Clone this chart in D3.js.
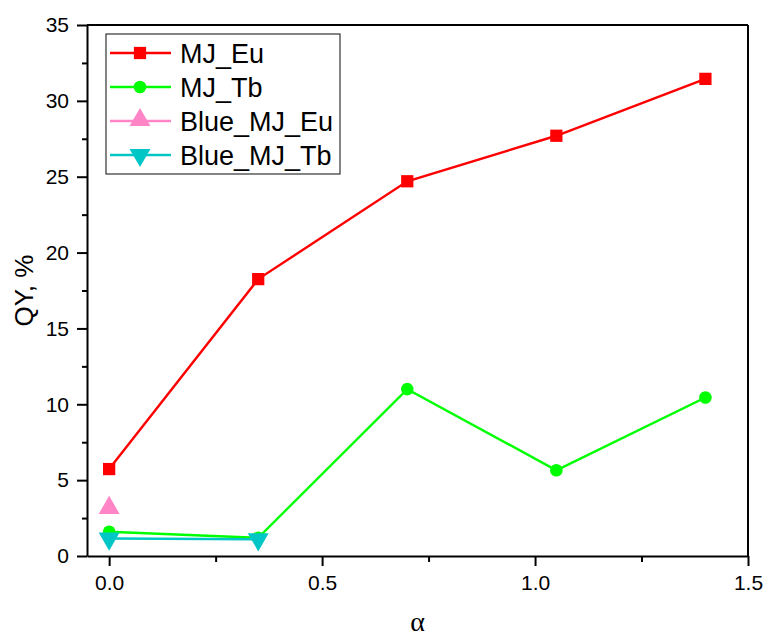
<!DOCTYPE html>
<html>
<head>
	<title>QY vs alpha</title>
	<script src="https://d3js.org/d3.v7.min.js"></script>
	<style>
	body{
		margin: 0;
		background: #ffffff;
	}
	text{
		font-family: "Liberation Sans", Arial, sans-serif;
		fill: #000000;
	}
	.axis path, .axis line{
		stroke: #000000;
		stroke-width: 2;
	}
	</style>
</head>
<body>
	<div id="chart"></div>
	<script>
		// values
		var alpha = [0, 0.35, 0.7, 1.05, 1.4];
		var mjEu = [5.73, 18.25, 24.7, 27.7, 31.45];
		var mjTb = [1.6, 1.2, 11.0, 5.65, 10.45];
		var blueAlpha = [0, 0.35];
		var blueMjEu = [3.1];
		var blueMjTb = [1.15, 1.1];
		var xTicks = [0, 0.5, 1.0, 1.5];
		var yTicks = [0, 5, 10, 15, 20, 25, 30, 35];

		var series = [
			{name: "MJ_Eu", x: alpha, y: mjEu, color: "#ff0000", shape: "square"},
			{name: "MJ_Tb", x: alpha, y: mjTb, color: "#00ff00", shape: "circle"},
			{name: "Blue_MJ_Eu", x: blueAlpha, y: blueMjEu, color: "#ff85c6", shape: "up"},
			{name: "Blue_MJ_Tb", x: blueAlpha, y: blueMjTb, color: "#00c6c6", shape: "down"}
		];

		var width = 763, height = 639;
		var margin = {top: 25, right: 15, bottom: 83, left: 87};
		var w = width - margin.left - margin.right,
			h = height - margin.top - margin.bottom;

		var svg = d3.select("#chart").append("svg")
			.attr("width", width)
			.attr("height", height);

		var g = svg.append("g")
			.attr("transform", "translate(" + margin.left + "," + margin.top + ")");

		var x = d3.scaleLinear().domain([-0.052, 1.5]).range([0, w]);
		var y = d3.scaleLinear().domain([0, 35]).range([h, 0]);

		// minor ticks
		var xMinor = d3.range(0.25, 1.5, 0.5);
		var yMinor = d3.range(2.5, 35, 5);

		g.append("g")
			.attr("class", "axis")
			.attr("transform", "translate(0," + h + ")")
			.call(d3.axisBottom(x).tickValues(xMinor).tickSize(6).tickFormat(""))
			.select(".domain").remove();
		g.append("g")
			.attr("class", "axis")
			.call(d3.axisLeft(y).tickValues(yMinor).tickSize(5).tickFormat(""))
			.select(".domain").remove();

		var xAxis = g.append("g")
			.attr("class", "axis")
			.attr("transform", "translate(0," + h + ")")
			.call(d3.axisBottom(x).tickValues(xTicks).tickSize(10).tickSizeOuter(0).tickFormat(d3.format(".1f")));
		xAxis.selectAll("text")
			.attr("y", 19)
			.style("font-size", "21px");

		var yAxis = g.append("g")
			.attr("class", "axis")
			.call(d3.axisLeft(y).tickValues(yTicks).tickSize(10).tickSizeOuter(0).tickFormat(d3.format("d")));
		yAxis.selectAll("text")
			.attr("x", -18)
			.style("font-size", "21px");

		// top and right frame
		g.append("line").attr("x1", 0).attr("x2", w).attr("y1", 0).attr("y2", 0)
			.attr("stroke", "#000").attr("stroke-width", 2);
		g.append("line").attr("x1", w).attr("x2", w).attr("y1", 0).attr("y2", h)
			.attr("stroke", "#000").attr("stroke-width", 2);

		function symbolFor(shape){
			if(shape == "square") return d3.symbol().type(d3.symbolSquare).size(150);
			if(shape == "circle") return d3.symbol().type(d3.symbolCircle).size(125);
			return d3.symbol().type(d3.symbolTriangle).size(190);
		}

		function drawMarker(sel, s){
			sel.append("path")
				.attr("d", symbolFor(s.shape)())
				.attr("fill", s.color)
				.attr("transform", s.shape == "down" ? "rotate(180)" : (s.shape == "up" ? "translate(0,-1)" : null));
		}

		var line = d3.line()
			.x(function(d){ return x(d[0]); })
			.y(function(d){ return y(d[1]); });

		series.forEach(function(s){
			var pts = s.y.map(function(v, i){ return [s.x[i], v]; });
			g.append("path")
				.datum(pts)
				.attr("d", line)
				.attr("fill", "none")
				.attr("stroke", s.color)
				.attr("stroke-width", 2.4);
			pts.forEach(function(p){
				var m = g.append("g")
					.attr("transform", "translate(" + x(p[0]) + "," + y(p[1]) + ")");
				drawMarker(m, s);
			});
		});

		// axis labels
		svg.append("text")
			.attr("transform", "translate(33," + (margin.top + h / 2) + ") rotate(-90)")
			.attr("text-anchor", "middle")
			.style("font-size", "26px")
			.text("QY, %");

		svg.append("text")
			.attr("x", margin.left + w / 2)
			.attr("y", 631)
			.attr("text-anchor", "middle")
			.style("font-family", "'Liberation Serif', 'Times New Roman', serif")
			.style("font-size", "28px")
			.text("α");

		// legend
		var legend = svg.append("g").attr("transform", "translate(106,34)");
		legend.append("rect")
			.attr("width", 234)
			.attr("height", 140)
			.attr("fill", "#fff")
			.attr("stroke", "#333")
			.attr("stroke-width", 1.2);

		series.forEach(function(s, i){
			var row = legend.append("g")
				.attr("transform", "translate(0," + (19 + i * 34) + ")");
			row.append("line")
				.attr("x1", 4).attr("x2", 65)
				.attr("stroke", s.color)
				.attr("stroke-width", 2.4);
			var m = row.append("g").attr("transform", "translate(34,0)");
			drawMarker(m, s);
			row.append("text")
				.attr("x", 74)
				.attr("y", 10)
				.style("font-size", "27px")
				.text(s.name);
		});
	</script>
</body>
</html>
